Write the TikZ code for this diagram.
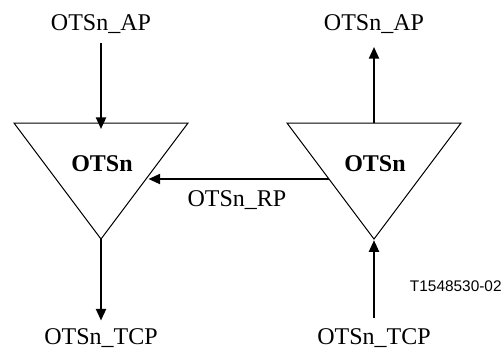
\documentclass[tikz,border=0pt]{standalone}
\usepackage{fontspec}
\setmainfont{Liberation Serif}
\setsansfont{Liberation Sans}
\usetikzlibrary{arrows.meta}
\begin{document}
\begin{tikzpicture}[x=0.5pt,y=-0.5pt,
    point/.style ={inner sep=0pt, font=\fontsize{12}{14}\selectfont},
    func/.style ={inner sep=0pt, font=\fontsize{12}{14}\selectfont\bfseries},
    flow/.style ={line width=1pt, -{Triangle[length=5.8pt,width=5pt]}},
    tri/.style ={line width=0.5pt, line join=miter}]
   \useasboundingbox (0,0) rectangle (503,349);
   % triangles
   \coordinate (topL) at (101,123);  \coordinate (tipL) at (101,239);
   \coordinate (topR) at (374,123);  \coordinate (tipR) at (374,239);
   \draw[tri] (14,123) -- (188,123) -- (tipL) -- cycle;
   \draw[tri] (287,123) -- (461,123) -- (tipR) -- cycle;
   \node[func] (fnL) [anchor=base] at (102,171.5) {OTSn};
   \node[func] (fnR) [anchor=base] at (375,171.5) {OTSn};
   % labels
   \node[point] (apL) [anchor=base] at (101,30.5) {OTSn\_AP};
   \node[point] (apR) [anchor=base] at (374,30.5) {OTSn\_AP};
   \node[point] (rp) [anchor=base] at (237,206.5) {OTSn\_RP};
   \node[point] (tcpL) [anchor=base] at (101,344.5) {OTSn\_TCP};
   \node[point] (tcpR) [anchor=base] at (374,344.5) {OTSn\_TCP};
   \node[inner sep=0pt, font=\sffamily\fontsize{7.7}{9}\selectfont] (ref) [anchor=base east] at (502,291.5) {T1548530-02};
   % connectors
   \coordinate (inL) at (101,43);   \coordinate (outL) at (101,320.5);
   \coordinate (outR) at (374,47);  \coordinate (inR) at (374,318);
   \coordinate (edgeR) at (329.4,179); \coordinate (edgeL) at (148.5,179);
   \draw[flow] (inL) to ([yshift=-3pt]topL);
   \draw[flow] (tipL) to (outL);
   \draw[flow] (topR) to (outR);
   \draw[flow] (inR) to ([yshift=-0.6pt]tipR);
   \draw[flow] (edgeR) to (edgeL);
 \end{tikzpicture}
\end{document}
